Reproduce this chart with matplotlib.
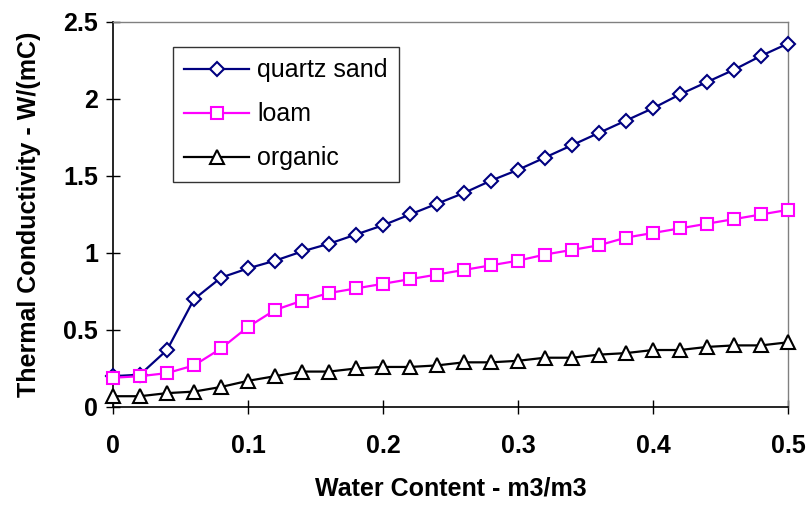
import numpy as np
import matplotlib.pyplot as plt

plt.rcParams['font.family'] = ['Liberation Sans', 'DejaVu Sans']

# Conteudo de agua (m3/m3)
agua = [0.00, 0.02, 0.04, 0.06, 0.08, 0.10, 0.12, 0.14, 0.16, 0.18, 0.20, 0.22, 0.24,
        0.26, 0.28, 0.30, 0.32, 0.34, 0.36, 0.38, 0.40, 0.42, 0.44, 0.46, 0.48, 0.50]

# Condutividade termica - W/(mC)
quartzo = [0.20, 0.21, 0.37, 0.70, 0.84, 0.90, 0.95, 1.01, 1.06, 1.12, 1.18, 1.25, 1.32,
           1.39, 1.47, 1.54, 1.62, 1.70, 1.78, 1.86, 1.94, 2.03, 2.11, 2.19, 2.28, 2.36]
loam = [0.19, 0.20, 0.22, 0.27, 0.38, 0.52, 0.63, 0.69, 0.74, 0.77, 0.80, 0.83, 0.86,
        0.89, 0.92, 0.95, 0.99, 1.02, 1.05, 1.10, 1.13, 1.16, 1.19, 1.22, 1.25, 1.28]
organico = [0.07, 0.07, 0.09, 0.10, 0.13, 0.17, 0.20, 0.23, 0.23, 0.25, 0.26, 0.26, 0.27,
            0.29, 0.29, 0.30, 0.32, 0.32, 0.34, 0.35, 0.37, 0.37, 0.39, 0.40, 0.40, 0.42]

fig = plt.figure(figsize=(8.09, 5.09), dpi=100)
ax = fig.add_axes([0.1397, 0.2004, 0.8343, 0.7564])

ax.plot(agua, quartzo, color='#000080', lw=1.6, marker='D', ms=7, mfc='white',
        mec='#000080', mew=1.5, label='quartz sand', clip_on=False, zorder=3)
ax.plot(agua, loam, color='#FF00FF', lw=1.6, marker='s', ms=8.5, mfc='white',
        mec='#FF00FF', mew=1.5, label='loam', clip_on=False, zorder=3)
ax.plot(agua, organico, color='black', lw=1.6, marker='^', ms=10, mfc='white',
        mec='black', mew=1.5, label='organic', clip_on=False, zorder=3)

ax.set_xlim(0, 0.5)
ax.set_ylim(0, 2.5)
ax.set_xticks([0, 0.1, 0.2, 0.3, 0.4, 0.5])
ax.set_xticklabels(['0', '0.1', '0.2', '0.3', '0.4', '0.5'])
ax.set_yticks([0, 0.5, 1, 1.5, 2, 2.5])
ax.set_yticklabels(['0', '0.5', '1', '1.5', '2', '2.5'])
ax.tick_params(direction='inout', length=9.5, width=1, labelsize=18)
ax.tick_params(axis='x', pad=15)
ax.tick_params(axis='y', pad=6)
for lab in ax.get_xticklabels() + ax.get_yticklabels():
    lab.set_fontweight('bold')

for lado in ['left', 'bottom']:
    ax.spines[lado].set_color('black')
    ax.spines[lado].set_linewidth(1.2)
for lado in ['top', 'right']:
    ax.spines[lado].set_color('#808080')
    ax.spines[lado].set_linewidth(1.0)

ax.set_xlabel('Water Content - m3/m3', fontsize=18, fontweight='bold', labelpad=13)
ax.set_ylabel('Thermal Conductivity - W/(mC)', fontsize=18, fontweight='bold', labelpad=16)

leg = ax.legend(loc='upper left', bbox_to_anchor=(0.089, 0.935), fontsize=18,
                frameon=True, fancybox=False, edgecolor='black', handlelength=2.6,
                labelspacing=0.8, borderpad=0.45, handletextpad=0.32,
                borderaxespad=0)
leg.get_frame().set_linewidth(1.0)

plt.savefig('out.png', dpi=100)
